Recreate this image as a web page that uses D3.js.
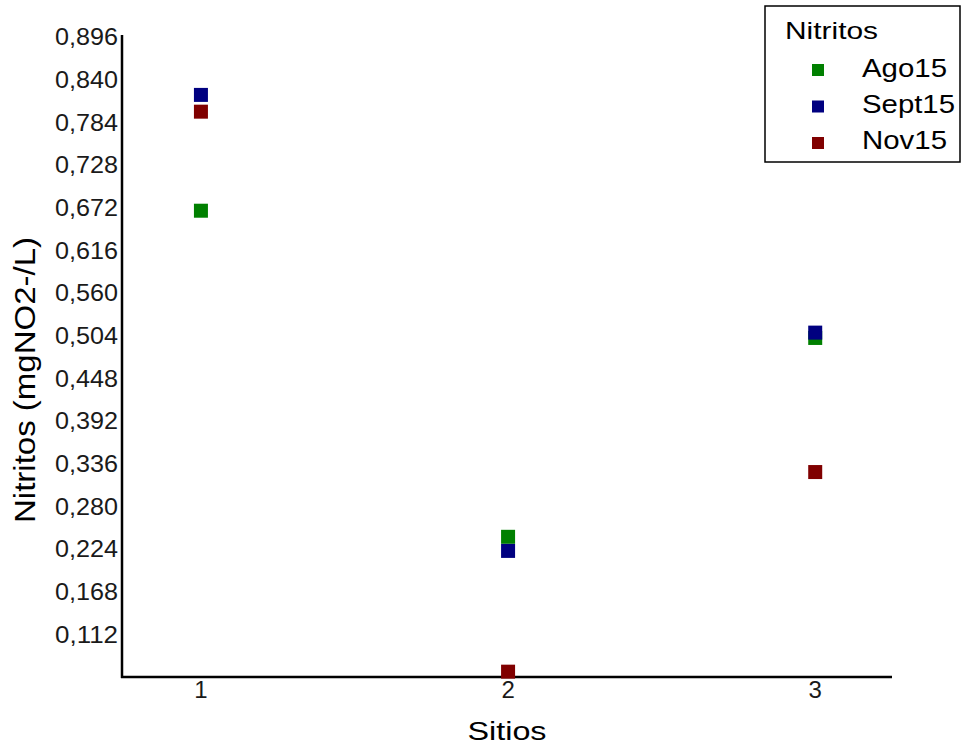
<!DOCTYPE html>
<html><head><meta charset="utf-8">
<script src="https://cdn.jsdelivr.net/npm/d3@7"></script>
<style>body{margin:0;background:#fff;} svg{display:block;font-family:"Liberation Sans",Arial,sans-serif;}</style>
</head><body>
<svg id="c" width="961" height="754"></svg>
<script>
const sites = [1, 2, 3];
const seriesNames = ["Ago15", "Sept15", "Nov15"];
const seriesColors = ["#008000", "#000080", "#800000"];
const ago15 = [0.668, 0.240, 0.501];
const sept15 = [0.820, 0.2215, 0.508];
const nov15 = [0.798, 0.063, 0.325];
const yTicks = [0.112, 0.168, 0.224, 0.280, 0.336, 0.392, 0.448, 0.504, 0.560, 0.616, 0.672, 0.728, 0.784, 0.840, 0.896];

(function () {
const svg = d3.select("#c");
const mL = 122, mR = 892, mT = 35, mB = 677;
const x = d3.scaleLinear().domain([0.743, 3.25]).range([mL, mR]);
const y = d3.scaleLinear().domain([0.056, 0.896]).range([mB, 37]);

const fmt = v => d3.format(".3f")(v).replace(".", ",");

svg.append("line").attr("x1", mL).attr("x2", mL).attr("y1", mT).attr("y2", mB + 1)
  .attr("stroke", "#000").attr("stroke-width", 2.5);
svg.append("line").attr("x1", mL - 1).attr("x2", mR).attr("y1", mB).attr("y2", mB)
  .attr("stroke", "#000").attr("stroke-width", 2.5);

svg.append("g").selectAll("text").data(yTicks).join("text")
  .attr("x", mL - 4).attr("y", d => y(d)).attr("dy", "0.35em")
  .attr("text-anchor", "end").attr("font-size", 24).attr("fill", "#1a1a1a")
  .attr("textLength", 63).attr("lengthAdjust", "spacingAndGlyphs")
  .text(fmt);

svg.append("g").selectAll("text").data(sites).join("text")
  .attr("x", d => x(d)).attr("y", 698)
  .attr("text-anchor", "middle").attr("font-size", 24).attr("fill", "#1a1a1a")
  .text(d => d);

svg.append("text").attr("transform", `translate(35,380) rotate(-90)`)
  .attr("text-anchor", "middle").attr("font-size", 29).attr("fill", "#000")
  .attr("textLength", 286).attr("lengthAdjust", "spacingAndGlyphs")
  .text("Nitritos (mgNO2-/L)");
svg.append("text").attr("x", 507).attr("y", 740)
  .attr("text-anchor", "middle").attr("font-size", 26).attr("fill", "#000")
  .attr("textLength", 79).attr("lengthAdjust", "spacingAndGlyphs")
  .text("Sitios");

const series = [ago15, sept15, nov15];
const s = 14;
series.forEach((vals, i) => {
  svg.append("g").selectAll("rect").data(vals).join("rect")
    .attr("x", (d, j) => x(sites[j]) - s / 2)
    .attr("y", d => y(d) - s / 2)
    .attr("width", s).attr("height", s)
    .attr("fill", seriesColors[i]);
});

const lg = svg.append("g");
lg.append("rect").attr("x", 765).attr("y", 6).attr("width", 195).attr("height", 156)
  .attr("fill", "#fff").attr("stroke", "#000").attr("stroke-width", 1.5);
lg.append("text").attr("x", 785).attr("y", 39).attr("font-size", 24).attr("fill", "#000")
  .attr("textLength", 93).attr("lengthAdjust", "spacingAndGlyphs").text("Nitritos");
const itemW = [85, 93, 85];
seriesNames.forEach((n, i) => {
  const cy = 70 + i * 36.5;
  lg.append("rect").attr("x", 812).attr("y", cy - 6).attr("width", 12).attr("height", 12).attr("fill", seriesColors[i]);
  lg.append("text").attr("x", 862).attr("y", 77 + i * 36).attr("font-size", 25).attr("fill", "#000")
    .attr("textLength", itemW[i]).attr("lengthAdjust", "spacingAndGlyphs").text(n);
});
})();
</script>
</body></html>
